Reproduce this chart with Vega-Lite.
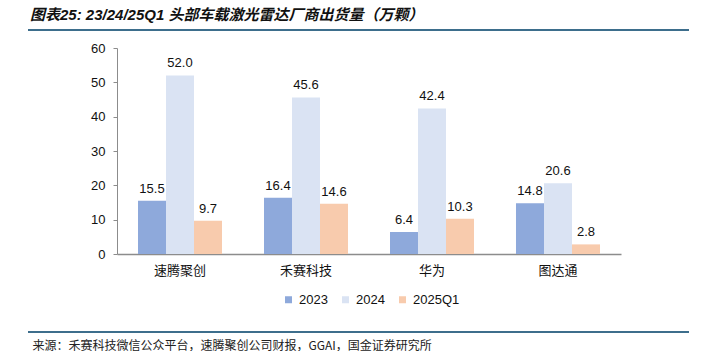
{
  "$schema": "https://vega.github.io/schema/vega-lite/v6.json",
  "width": 504,
  "height": 206,
  "autosize": {"type": "none"},
  "padding": {"left": 117, "top": 48, "right": 83, "bottom": 97},
  "background": "white",
  "config": {
    "view": {"stroke": null},
    "font": "Liberation Sans, Noto Sans CJK SC",
    "axis": {"labelFont": "Liberation Sans, Noto Sans CJK SC", "titleFont": "Noto Sans CJK SC"}
  },
  "title": {
    "text": "图表25:  23/24/25Q1 头部车载激光雷达厂商出货量（万颗）",
    "anchor": "start",
    "dx": 3,
    "offset": 6,
    "zindex": 0,
    "font": "Liberation Sans, Noto Sans CJK SC",
    "fontSize": 15,
    "fontWeight": "bold",
    "fontStyle": "italic",
    "color": "#111111"
  },
  "data": {
    "values": [
      {"company": "速腾聚创", "year": "2023", "value": 15.5},
      {"company": "速腾聚创", "year": "2024", "value": 52.0},
      {"company": "速腾聚创", "year": "2025Q1", "value": 9.7},
      {"company": "禾赛科技", "year": "2023", "value": 16.4},
      {"company": "禾赛科技", "year": "2024", "value": 45.6},
      {"company": "禾赛科技", "year": "2025Q1", "value": 14.6},
      {"company": "华为", "year": "2023", "value": 6.4},
      {"company": "华为", "year": "2024", "value": 42.4},
      {"company": "华为", "year": "2025Q1", "value": 10.3},
      {"company": "图达通", "year": "2023", "value": 14.8},
      {"company": "图达通", "year": "2024", "value": 20.6},
      {"company": "图达通", "year": "2025Q1", "value": 2.8}
    ]
  },
  "encoding": {
    "x": {
      "field": "company",
      "type": "nominal",
      "sort": ["速腾聚创", "禾赛科技", "华为", "图达通"],
      "scale": {"paddingInner": 0.3333, "paddingOuter": 0.1667},
      "axis": {
        "title": "来源：禾赛科技微信公众平台，速腾聚创公司财报，GGAI，国金证券研究所",
        "titleX": -85,
        "titleY": 91,
        "titleAlign": "left",
        "titleAnchor": "start",
        "titleBaseline": "middle",
        "titleFontSize": 12,
        "titleFontWeight": "normal",
        "titleColor": "#222222",
        "labelAngle": 0,
        "labelFontSize": 13,
        "labelColor": "#111111",
        "labelPadding": 10,
        "ticks": false,
        "domainColor": "#8c8c8c",
        "domainWidth": 1.5
      }
    },
    "xOffset": {"field": "year", "type": "nominal", "sort": ["2023", "2024", "2025Q1"], "scale": {"paddingInner": 0, "paddingOuter": 0}},
    "y": {
      "field": "value",
      "type": "quantitative",
      "scale": {"domain": [0, 60]},
      "axis": {
        "title": null,
        "values": [0, 10, 20, 30, 40, 50, 60],
        "grid": false,
        "labelFontSize": 13,
        "labelColor": "#111111",
        "labelPadding": 8,
        "tickSize": 4,
        "tickColor": "#8c8c8c",
        "domainColor": "#8c8c8c",
        "domainWidth": 1
      }
    }
  },
  "layer": [
    {
      "mark": {"type": "bar"},
      "encoding": {
        "color": {
          "field": "year",
          "type": "nominal",
          "sort": ["2023", "2024", "2025Q1"],
          "scale": {"domain": ["2023", "2024", "2025Q1"], "range": ["#8EA9DB", "#DAE3F3", "#F8CBAD"]},
          "legend": {
            "title": null,
            "orient": "none",
            "direction": "horizontal",
            "legendX": 165,
            "legendY": 245,
            "symbolType": "square",
            "symbolSize": 49,
            "symbolStrokeWidth": 0,
            "labelFontSize": 13,
            "labelColor": "#111111",
            "labelOffset": 4,
            "columnPadding": 11
          }
        }
      }
    },
    {
      "mark": {"type": "text", "dy": -8, "fontSize": 13, "color": "#111111", "baseline": "alphabetic"},
      "encoding": {
        "text": {"field": "value", "type": "quantitative", "format": ".1f"}
      }
    },
    {
      "data": {"values": [{}]},
      "mark": {"type": "rule", "color": "#3D6E8C", "strokeWidth": 2},
      "encoding": {
        "x": {"value": -89},
        "x2": {"value": 572},
        "y": {"value": -18},
        "xOffset": null
      }
    },
    {
      "data": {"values": [{}]},
      "mark": {"type": "rule", "color": "#3D6E8C", "strokeWidth": 2},
      "encoding": {
        "x": {"value": -89},
        "x2": {"value": 572},
        "y": {"value": 284},
        "xOffset": null
      }
    }
  ]
}
